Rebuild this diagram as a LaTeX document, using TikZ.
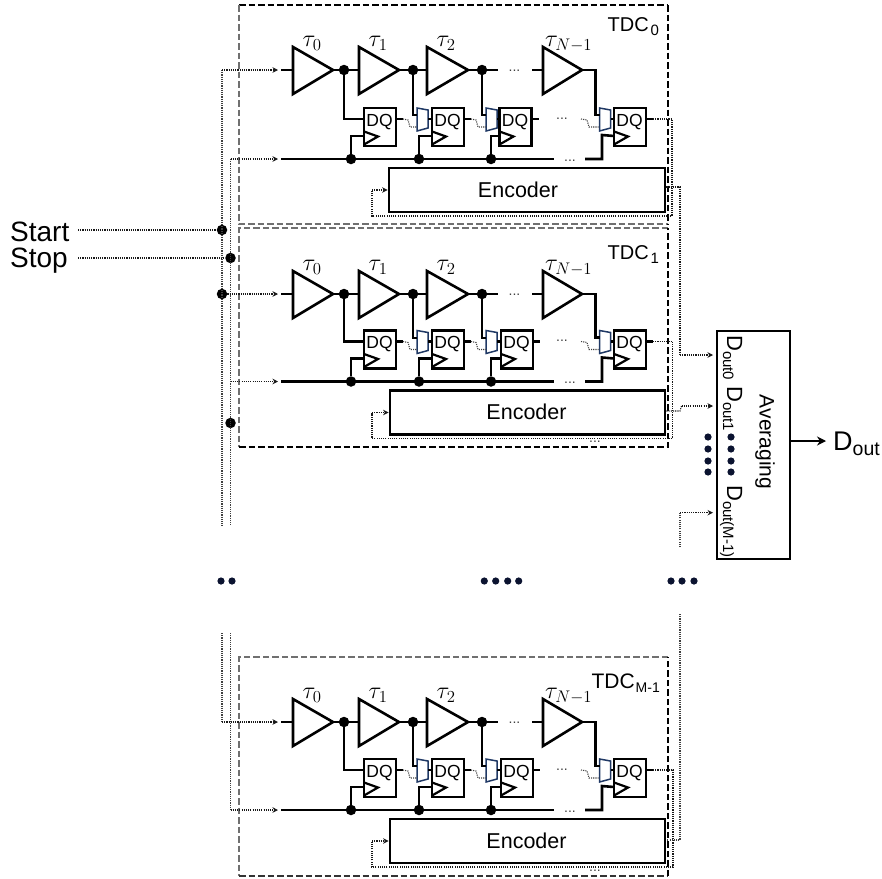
\documentclass[tikz,border=0pt]{standalone}
\usepackage{fix-cm}
\usepackage[no-math]{fontspec}
\setmainfont{Liberation Sans}
\usetikzlibrary{arrows.meta}
\definecolor{muxblue}{HTML}{1F3864}
\definecolor{ellipsis}{HTML}{0B1330}
\definecolor{boxgray}{HTML}{707070}
\tikzset{
  wire/.style={draw=black,line width=2.6pt},
  dotw/.style={draw=black!90,line width=1.1pt,dash pattern=on 1.1pt off 1.1pt},
  dotgray/.style={draw=black!75,line width=1.1pt,dash pattern=on 1.1pt off 1.1pt},
  sig/.style={dotw,-{Stealth[length=5.5pt,width=5.5pt]}},
  junc/.style={circle,fill=black,draw=none,minimum size=10.5pt,inner sep=0pt},
  ell/.style={circle,fill=ellipsis,draw=none,minimum size=7.2pt,inner sep=0pt},
  dffbox/.style={rectangle,draw=black,line width=2.4pt,minimum width=32pt,minimum height=38pt,inner sep=0pt},
  dqtext/.style={anchor=base,inner sep=0pt,font=\fontsize{17.5}{17.5}\selectfont},
  encbox/.style={rectangle,draw=black,line width=2.8pt,inner sep=0pt},
  enctext/.style={anchor=base,inner sep=0pt,font=\fontsize{21.5}{21.5}\selectfont},
  tdcdash/.style={line width=1.1pt,dash pattern=on 6.5pt off 3pt},
  taulabel/.style={anchor=base west,inner sep=0pt,font=\fontsize{24}{24}\selectfont},
  hdots/.style={anchor=base,inner sep=0pt,text=black!75,font=\fontsize{14}{14}\selectfont},
  vtext/.style={rotate=-90,anchor=base west,inner sep=0pt},
  lblwest/.style={anchor=base west,inner sep=0pt},
  lbleast/.style={anchor=base east,inner sep=0pt},
}
\newcommand{\mkdelay}[4]{%
  \coordinate (#1-in) at (#2,70+#4);
  \coordinate (#1-out) at (#3,70+#4);
  \draw[wire,line join=miter] (#2,47+#4) -- (#1-out) -- (#2,94+#4) -- cycle;}
\newcommand{\mkdff}[3]{%
  \node[dffbox] (#1) at (#2+16,127+#3) {};
  \node[dqtext] (#1-t) at (#2+15.5,126+#3) {DQ};
  \coordinate (#1-d) at (#2,119+#3);
  \coordinate (#1-q) at (#2+32,119+#3);
  \coordinate (#1-c) at (#2,136+#3);
  \draw[draw=black,line width=2.2pt] (#2,131.5+#3) -- (#2+14,136.5+#3) -- (#2,144.5+#3);}
\newcommand{\mkmux}[3]{%
  \coordinate (#1-a) at (#2,115+#3);
  \coordinate (#1-b) at (#2,127+#3);
  \coordinate (#1-o) at (#2+11,119+#3);
  \draw[draw=muxblue,line width=1.5pt] (#2,108+#3) -- (#2+11,110+#3) -- (#2+11,128+#3) -- (#2,131+#3) -- cycle;}
% #1 prefix, #2 offset of the delay line, #3 offset of the lower part, #4 encoder left
% #5 encoder text x, #6 third flip-flop left, #7 feedback right x
\newcommand{\tdcrow}[7]{%
  \mkdelay{#1t1}{293}{333}{#2}
  \mkdelay{#1t2}{359}{399}{#2}
  \mkdelay{#1t3}{427}{468}{#2}
  \mkdelay{#1t4}{543}{582}{#2}
  \node[taulabel] (#1l1) at (302.5,46.5+#2) {$\tau_0$};
  \node[taulabel] (#1l2) at (368.5,46.5+#2) {$\tau_1$};
  \node[taulabel] (#1l3) at (436.5,46.5+#2) {$\tau_2$};
  \node[taulabel] (#1l4) at (545,46.5+#2) {$\tau_{N-1}$};
  \mkdff{#1f1}{364}{#3}
  \mkdff{#1f2}{432}{#3}
  \mkdff{#1f3}{#6}{#3}
  \mkdff{#1f4}{614}{#3}
  \mkmux{#1m1}{417}{#3}
  \mkmux{#1m2}{486}{#3}
  \mkmux{#1m4}{599.5}{#3}
  \node[encbox,minimum width=665pt-#4pt,minimum height=44pt] (#1enc) at ({(#4+665)/2},190+#3) {};
  \node[enctext] (#1enct) at (#5,197+#3) {Encoder};
  \node[junc] (#1n1) at (344,70+#2) {};
  \node[junc] (#1n2) at (413,70+#2) {};
  \node[junc] (#1n3) at (482,70+#2) {};
  \node[junc] (#1c1) at (351,159+#3) {};
  \node[junc] (#1c2) at (419,159+#3) {};
  \node[junc] (#1c3) at (491,159+#3) {};
  \coordinate (#1din) at (281,70+#2);
  \coordinate (#1cin) at (281,159+#3);
  \coordinate (#1g1) at (498,70+#2);
  \coordinate (#1g2) at (532,70+#2);
  \coordinate (#1g3) at (554,159+#3);
  \coordinate (#1g4) at (585,159+#3);
  \draw[wire] (#1din) -- (#1t1-in);
  \draw[wire] (#1t1-out) -- (#1t2-in);
  \draw[wire] (#1t2-out) -- (#1t3-in);
  \draw[wire] (#1t3-out) -- (#1g1);
  \draw[wire] (#1g2) -- (#1t4-in);
  \draw[wire] (#1t4-out) -- (595.5,70+#2) -- (595.5,115+#3) -- (#1m4-a);
  \draw[wire] (#1n1) |- (#1f1-d);
  \draw[wire,line width=2pt] (#1n2) |- (#1m1-a);
  \draw[wire,line width=2pt] (#1n3) |- (#1m2-a);
  \draw[wire] (#1cin) -- (#1g3);
  \draw[wire] (#1g4) -- (602,159+#3) -- (602,135+#3) -- (#1f4-c);
  \draw[wire] (#1c1) |- (#1f1-c);
  \draw[wire] (#1c2) |- (#1f2-c);
  \draw[wire] (#1c3) |- (#1f3-c);
  \draw[wire] (#1m1-o) -- (#1f2-d);
  \draw[wire] (#1m2-o) -- (#1f3-d);
  \draw[wire] (#1m4-o) -- (#1f4-d);
  \draw[wire] (#1f1-q) -- ++(7,0);
  \draw[wire] (#1f2-q) -- ++(7,0);
  \draw[wire] (#1f3-q) -- ++(7,0);
  \draw[wire] (#1f4-q) -- ++(7,0);
  \draw[dotgray] (403,119+#3) -- (408,120+#3) -- (410,127+#3) -- (#1m1-b);
  \draw[dotgray] (471,119+#3) -- (476,120+#3) -- (478,127+#3) -- (#1m2-b);
  \draw[dotgray] (581,119+#3) -- (587,120+#3) -- (589,127+#3) -- (#1m4-b);
  \node[hdots] (#1h1) at (514.5,71+#2) {...};
  \node[hdots] (#1h2) at (562,119+#3) {...};
  \node[hdots] (#1h3) at (570,161+#3) {...};
  \coordinate (#1fbl) at (372,216+#3);
  \coordinate (#1fbr) at (#7,216+#3);
  \coordinate (#1fbu) at (372,190+#3);
  \draw[dotw] (653,119+#3) -- (#7,119+#3) -- (#1fbr) -- (#1fbl) -- (#1fbu);
  \draw[sig] (#1fbu) -- (#1enc.west);
}
\begin{document}
\begin{tikzpicture}[x=1pt,y=-1pt]
\useasboundingbox (0,0) rectangle (882,878);
% dashed TDC frames
\draw[tdcdash,black] (239,5) -- (668,5);
\draw[tdcdash,boxgray] (239,5) -- (239,224) -- (668,224);
\draw[tdcdash,black] (668,5) -- (668,224);
\draw[tdcdash,boxgray] (668,228) -- (239,228) -- (239,447);
\draw[tdcdash,black] (239,447) -- (668,447) -- (668,228);
\draw[tdcdash,boxgray] (668,657) -- (239,657) -- (239,876);
\draw[tdcdash,black!80] (239,876) -- (668,876);
\draw[tdcdash,black] (668,876) -- (668,657);
% TDC rows
\tdcrow{a}{0}{0}{389}{518}{499.5}{672}
\tdcrow{b}{224}{222.5}{390}{526.5}{501}{672.5}
\tdcrow{c}{652}{651}{390}{526.5}{501}{673}
\node[lbleast,font=\fontsize{20}{20}\selectfont] (tdc0) at (649,31) {TDC};
\node[lblwest,font=\fontsize{15}{15}\selectfont] (tdc0s) at (650.5,35) {0};
\node[lbleast,font=\fontsize{20}{20}\selectfont] (tdc1) at (649,259) {TDC};
\node[lblwest,font=\fontsize{15}{15}\selectfont] (tdc1s) at (650.5,263) {1};
\node[lbleast,font=\fontsize{21}{21}\selectfont] (tdcm) at (635,688) {TDC};
\node[lblwest,font=\fontsize{14}{14}\selectfont] (tdcms) at (635.5,692) {M-1};
\node[hdots] (bh) at (595,442) {...};
\node[hdots] (ch) at (595,871) {...};
% Start / Stop
\node[lblwest,font=\fontsize{28}{28}\selectfont] (start) at (10,241) {Start};
\node[lblwest,font=\fontsize{28}{28}\selectfont] (stop) at (10,267) {Stop};
\coordinate (startend) at (78,230);
\coordinate (stopend) at (78,258);
\node[junc] (js1) at (222,230) {};
\node[junc] (js2) at (230.5,258) {};
\node[junc] (js3) at (222,294) {};
\node[junc] (js4) at (230.5,423) {};
\draw[dotw] (startend) -- (js1);
\draw[dotw] (stopend) -- (js2);
\coordinate (v1t) at (222,70);
\coordinate (v2t) at (230.5,159);
\coordinate (v1b) at (222,526);
\coordinate (v2b) at (230.5,526);
\coordinate (v1c) at (222,633);
\coordinate (v2c) at (230.5,633);
\coordinate (v1d) at (222,722);
\coordinate (v2d) at (230.5,810);
\coordinate (a1) at (278,70);
\coordinate (a2) at (278,159);
\coordinate (b1) at (278,294);
\coordinate (b2) at (278,381.5);
\coordinate (c1) at (278,722);
\coordinate (c2) at (278,810);
\coordinate (v2r) at (230.5,381.5);
\draw[dotgray] (v1t) -- (v1b);
\draw[dotgray] (v2t) -- (v2b);
\draw[sig] (v1t) -- (a1);
\draw[sig] (v2t) -- (a2);
\draw[sig] (js3) -- (b1);
\draw[sig] (v2r) -- (b2);
\draw[dotgray] (v1c) -- (v1d);
\draw[dotgray] (v2c) -- (v2d);
\draw[sig] (v1d) -- (c1);
\draw[sig] (v2d) -- (c2);
% Averaging block
\node[rectangle,draw=black,line width=2.8pt,inner sep=0pt,minimum width=73pt,minimum height=228pt] (avg) at (753.5,445) {};
\node[rotate=-90,inner sep=0pt,font=\fontsize{21}{21}\selectfont] (avgt) at (765,442) {Averaging};
\newcommand{\dlabel}[1]{{\fontsize{22}{22}\selectfont D\raisebox{-4pt}{\fontsize{15}{15}\selectfont #1}}}
\node[vtext] (d0) at (727,335) {\dlabel{out0}};
\node[vtext] (d1) at (727,386) {\dlabel{out1}};
\node[vtext] (d2) at (727,485) {\dlabel{out(M-1)}};
\node[lblwest] (dout) at (833,450) {\fontsize{27}{27}\selectfont D\raisebox{-5pt}{\fontsize{19.5}{19.5}\selectfont out}};
\coordinate (dtip) at (826,441);
\draw[wire,-{Stealth[length=9pt,width=9pt]}] (avg.east |- dtip) -- (dtip);
% connections to the averaging block
\coordinate (ar0) at (713,355);
\coordinate (ar1) at (713,406);
\coordinate (ar2) at (713,512.7);
\coordinate (k0) at (680,187);
\coordinate (k0b) at (680,355);
\coordinate (k1) at (680,411);
\coordinate (k1b) at (681.5,406);
\coordinate (k2t) at (680,547);
\coordinate (k2b) at (680,512.7);
\coordinate (k3t) at (680,614);
\coordinate (k3b) at (680,840);
\draw[dotw] (aenc.east |- k0) -- (k0) -- (k0b);
\draw[sig] (k0b) -- (ar0);
\draw[dotw] (benc.east |- k1) -- (k1) -- (k1b);
\draw[sig] (k1b) -- (ar1);
\draw[dotgray] (k2t) -- (k2b);
\draw[sig] (k2b) -- (ar2);
\draw[dotgray] (k3t) -- (k3b) -- (cenc.east |- k3b);
% ellipses
\node[ell] (e1) at (221,581) {};
\node[ell] (e2) at (232,581) {};
\node[ell] (e3) at (484.3,581) {};
\node[ell] (e4) at (495.7,581) {};
\node[ell] (e5) at (507.7,581) {};
\node[ell] (e6) at (518.7,581) {};
\node[ell] (e7) at (671,581) {};
\node[ell] (e8) at (682,581) {};
\node[ell] (e9) at (694,581) {};
\node[ell] (e10) at (708,437) {};
\node[ell] (e11) at (708,449) {};
\node[ell] (e12) at (708,461) {};
\node[ell] (e13) at (708,472) {};
\node[ell] (e14) at (731,437) {};
\node[ell] (e15) at (731,449) {};
\node[ell] (e16) at (731,461) {};
\node[ell] (e17) at (731,472) {};
\end{tikzpicture}
\end{document}
